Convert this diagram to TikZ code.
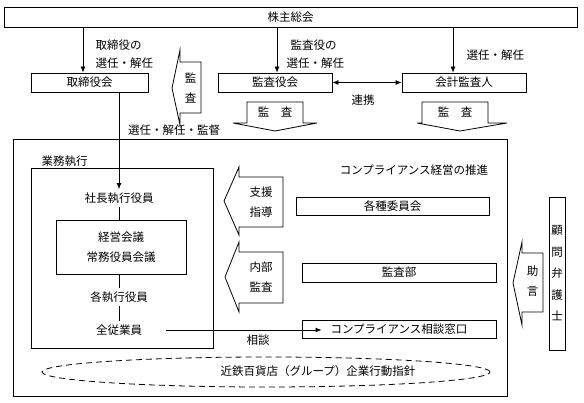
\documentclass[tikz,border=0pt]{standalone}
\usepackage{fontspec}
\setmainfont{Noto Sans CJK JP}
\usetikzlibrary{positioning, arrows.meta, shapes.geometric}

\tikzset{
  box/.style={draw, line width=0.8pt, inner sep=0pt},
  arr/.style={line width=0.8pt, -{Latex[length=6pt,width=5pt]}},
  blk/.style={draw, line width=0.8pt, line join=miter},
  tall/.style={align=center, font=\fontsize{11.5}{20}\selectfont},
}

\begin{document}
\begin{tikzpicture}[x=1pt, y=-1pt, font=\fontsize{11.5}{14}\selectfont]
  \useasboundingbox (0,0) rectangle (584,403);

  % top row
  \node[box, minimum width=573, minimum height=20] (kabunushi) at (290.5,17) {株主総会};
  \node[box, minimum width=117, minimum height=19] (torishimari) at (89.5,82.5) {取締役会};
  \node[box, minimum width=114, minimum height=19] (kansayaku) at (275,82.5) {監査役会};
  \node[box, minimum width=124, minimum height=19] (kaikei) at (464,82.5) {会計監査人};

  \draw[arr] ([xshift=-6.5]torishimari.north |- kabunushi.south) -- ([xshift=-6.5]torishimari.north);
  \draw[arr] ([xshift=2]kansayaku.north |- kabunushi.south) -- ([xshift=2]kansayaku.north);
  \draw[arr] ([xshift=-11]kaikei.north |- kabunushi.south) -- ([xshift=-11]kaikei.north);
  \draw[line width=0.8pt, {Latex[length=6pt,width=5pt]}-{Latex[length=6pt,width=5pt]}] (kansayaku.east) -- (kaikei.west);

  \node[anchor=west] (torilbla) at (92,45) {取締役の};
  \node[anchor=west] (torilblb) at (92,63) {選任・解任};
  \node[anchor=west] (kansalbla) at (287,45) {監査役の};
  \node[anchor=west] (kansalblb) at (283,63) {選任・解任};
  \node[anchor=west] (kaikeilbl) at (463,55) {選任・解任};
  \node (renkei) at (363,100) {連携};
  \node (kantoku) at (174,130) {選任・解任・監督};

  % block arrows
  \draw[blk] (172,88) -- (180,50) -- (180,62) -- (201,62) -- (201,113) -- (180,113) -- (180,125) -- cycle;
  \node[tall] (kansaA) at (190.5,88) {監\\査};
  \draw[blk] (247,102) -- (303,102) -- (303,123) -- (317,123) -- (275,131) -- (233,123) -- (247,123) -- cycle;
  \node (kansaB) at (275,112) {監　査};
  \draw[blk] (422,102) -- (488,102) -- (488,123) -- (507,123) -- (460,131) -- (417,123) -- (422,123) -- cycle;
  \node (kansaC) at (455,112) {監　査};

  % main frame
  \node[box, minimum width=494, minimum height=257] (outer) at (260,267.5) {};
  \node[anchor=west] (gyomu) at (38,161) {業務執行};
  \node[box, minimum width=182, minimum height=180] (inner) at (122,258) {};

  \node (shacho) at (119,198) {社長執行役員};
  \node[box, minimum width=130, minimum height=54, align=center, font=\fontsize{11.5}{20}\selectfont] (keiei) at (121,247) {経営会議\\常務役員会議};
  \node (kaku) at (119,297) {各執行役員};
  \node (zen) at (119,330) {全従業員};

  \draw[arr] (torishimari.south -| shacho.north) -- (shacho.north);
  \draw[line width=0.8pt] (shacho.south) -- (shacho.south |- keiei.north);
  \draw[line width=0.8pt] (kaku.north |- keiei.south) -- (kaku.north);
  \draw[line width=0.8pt] (kaku.south) -- (zen.north);

  \node (comp) at (414,170) {コンプライアンス経営の推進};
  \node[box, minimum width=193, minimum height=18] (iinkai) at (392.5,206) {各種委員会};
  \node[box, minimum width=194, minimum height=19] (kansabu) at (399,272.5) {監査部};
  \node[box, minimum width=194, minimum height=18] (madoguchi) at (399,329) {コンプライアンス相談窓口};

  \draw[arr] ([xshift=20]zen.east) -- ([xshift=20]zen.east -| madoguchi.west);
  \node (sodan) at (258,340) {相談};

  \draw[blk] (224,201) -- (239,167) -- (239,177) -- (283,177) -- (283,227) -- (239,227) -- (239,235) -- cycle;
  \node[tall] (shien) at (261,202) {支援\\指導};
  \draw[blk] (225,277) -- (239,242) -- (239,252) -- (283,252) -- (283,303) -- (239,303) -- (239,312) -- cycle;
  \node[tall] (naibu) at (261,277) {内部\\監査};
  \draw[blk] (513,283) -- (522,242) -- (522,253) -- (543,253) -- (543,312) -- (522,312) -- (522,325) -- cycle;
  \node[tall] (jogen) at (532.5,281) {助\\言};

  \node[box, minimum width=16, minimum height=153, align=center, font=\fontsize{11.5}{21.5}\selectfont] (komon) at (557,273.5) {顧\\問\\弁\\護\\士};

  % guideline
  \node[draw, ellipse, line width=0.8pt, dash pattern=on 6pt off 4pt, minimum width=448, minimum height=30] (shishin) at (266,372) {};
  \node (shishintxt) at (318,371) {近鉄百貨店（グループ）企業行動指針};

\end{tikzpicture}
\end{document}
